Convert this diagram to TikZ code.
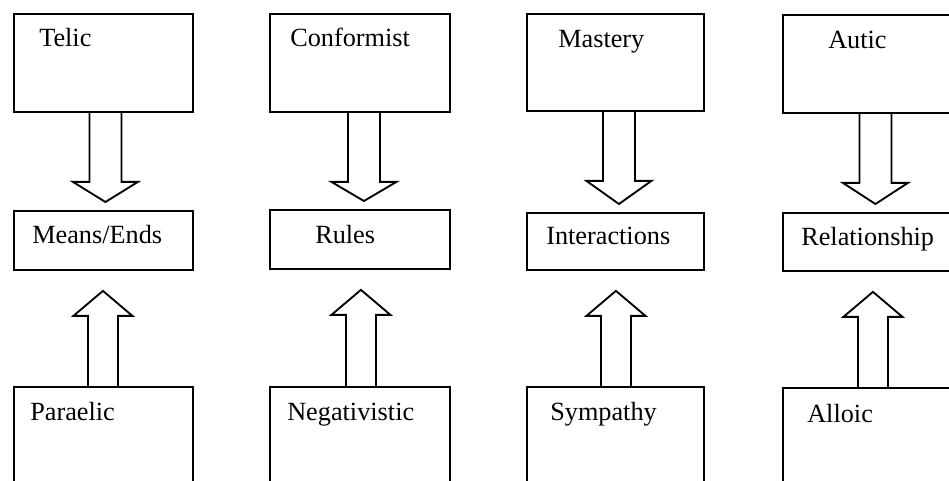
\documentclass[tikz,border=0pt]{standalone}
\usepackage{fontspec}
\setmainfont{Liberation Serif}
\usetikzlibrary{calc}
\newcommand\dnarr[3]{% top box, middle box, x offset
  \draw[blk] ($(#1.south)+(#3-16,0)$) -- ($(#1.south)+(#3-16,-69)$)
    -- ($(#1.south)+(#3-32.5,-69)$) -- ($(#1.south |- #2.north)+(#3,8)$)
    -- ($(#1.south)+(#3+32.5,-69)$) -- ($(#1.south)+(#3+16,-69)$)
    -- ($(#1.south)+(#3+16,0)$);}
\newcommand\uparr[3]{% bottom box, middle box, x offset
  \draw[blk] ($(#1.north)+(#3-15,0)$) -- ($(#1.north |- #2.south)+(#3-15,-45)$)
    -- ($(#1.north |- #2.south)+(#3-29.5,-45)$) -- ($(#1.north |- #2.south)+(#3,-20)$)
    -- ($(#1.north |- #2.south)+(#3+29.5,-45)$) -- ($(#1.north |- #2.south)+(#3+15,-45)$)
    -- ($(#1.north)+(#3+15,0)$);}
\begin{document}
\begin{tikzpicture}[x=0.75pt,y=0.75pt,
  box/.style={draw, line width=1.4pt, rectangle, inner sep=0pt, anchor=north west},
  lbl/.style={anchor=base west, inner sep=0pt, font=\fontsize{19.7}{23}\selectfont},
  blk/.style={draw, line width=1.4pt, line join=miter}]
\useasboundingbox (0,0) rectangle (949,-480);
\clip (0,0) rectangle (949,-480);
% column 1
\node[box, minimum width={179*0.75pt}, minimum height={98*0.75pt}] (t1) at (13,-13) {};
\node[box, minimum width={179*0.75pt}, minimum height={59*0.75pt}] (m1) at (13,-210) {};
\node[box, minimum width={179*0.75pt}, minimum height={98*0.75pt}] (b1) at (13,-386) {};
% column 2
\node[box, minimum width={180*0.75pt}, minimum height={98*0.75pt}] (t2) at (269,-13) {};
\node[box, minimum width={180*0.75pt}, minimum height={59*0.75pt}] (m2) at (269,-209) {};
\node[box, minimum width={180*0.75pt}, minimum height={98*0.75pt}] (b2) at (269,-386) {};
% column 3
\node[box, minimum width={177*0.75pt}, minimum height={97*0.75pt}] (t3) at (526,-13) {};
\node[box, minimum width={177*0.75pt}, minimum height={57*0.75pt}] (m3) at (526,-212) {};
\node[box, minimum width={177*0.75pt}, minimum height={98*0.75pt}] (b3) at (526,-386) {};
% column 4
\node[box, minimum width={178*0.75pt}, minimum height={98*0.75pt}] (t4) at (782,-14) {};
\node[box, minimum width={178*0.75pt}, minimum height={58*0.75pt}] (m4) at (782,-212) {};
\node[box, minimum width={178*0.75pt}, minimum height={98*0.75pt}] (b4) at (782,-387) {};
% labels
\node[lbl] (lt1) at (39,-46) {Telic};
\node[lbl] (lt2) at (290,-46) {Conformist};
\node[lbl] (lt3) at (558,-47) {Mastery};
\node[lbl] (lt4) at (828,-48) {Autic};
\node[lbl] (lm1) at (32,-243) {Means/Ends};
\node[lbl] (lm2) at (315,-243) {Rules};
\node[lbl] (lm3) at (546,-244) {Interactions};
\node[lbl] (lm4) at (801,-245) {Relationship};
\node[lbl] (lb1) at (30,-420) {Paraelic};
\node[lbl] (lb2) at (287,-420) {Negativistic};
\node[lbl] (lb3) at (550,-420) {Sympathy};
\node[lbl] (lb4) at (807,-422) {Alloic};
% block arrows
\dnarr{t1}{m1}{2}
\dnarr{t2}{m2}{4}
\dnarr{t3}{m3}{3.5}
\dnarr{t4}{m4}{3.5}
\uparr{b1}{m1}{-0.5}
\uparr{b2}{m2}{1}
\uparr{b3}{m3}{0.5}
\uparr{b4}{m4}{1}
\end{tikzpicture}
\end{document}
